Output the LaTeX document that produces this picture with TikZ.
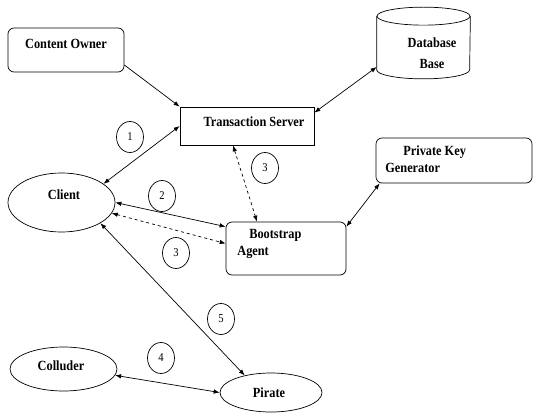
\documentclass[tikz,border=0pt]{standalone}
\usepackage{fontspec}
\setmainfont{Liberation Serif}[FakeStretch=0.88]
\usetikzlibrary{arrows.meta,positioning,shapes.geometric}

\begin{document}
\begin{tikzpicture}[x=1pt, y=-1pt, >={Latex[length=6pt,width=4.5pt]}, line width=0.7pt,
  rbox/.style={draw, rounded corners=6pt, minimum width=#1},
  sbox/.style={draw, minimum width=#1},
  oval/.style={draw, ellipse, inner sep=0pt},
  txt/.style={font=\fontsize{14}{17}\selectfont\bfseries, inner sep=0pt},
  num/.style={draw, ellipse, inner sep=0pt, minimum width=27pt, minimum height=31pt, font=\fontsize{12}{14}\selectfont},
  link/.style={<->}]
\useasboundingbox (0,0) rectangle (534,414);
% boxes
\node[rbox=116pt, minimum height=44pt] (owner) at (66,50) {};
\node[minimum width=93pt, minimum height=71pt, inner sep=0pt] (db) at (423.5,43) {};
\draw ([yshift=-9pt]db.north west) -- ([yshift=9pt]db.south west)
  arc[start angle=180, end angle=360, x radius=46.5pt, y radius=9pt] -- ([yshift=-9pt]db.north east);
\draw ([yshift=-9pt]db.north) ellipse [x radius=46.5pt, y radius=9pt];
\node[sbox=134pt, minimum height=38pt] (ts) at (247,126) {};
\node[rbox=156pt, minimum height=45pt] (pkg) at (454,160.5) {};
\node[rbox=120pt, minimum height=53pt] (boot) at (286,248.5) {};
\node[oval, minimum width=107pt, minimum height=59pt] (client) at (61.5,202.5) {};
\node[oval, minimum width=107pt, minimum height=44pt] (colluder) at (63.5,369) {};
\node[oval, minimum width=102pt, minimum height=39pt] (pirate) at (271,392.5) {};
% texts
\node[txt] (ownertxt) at (66,44) {Content Owner};
\node[txt, align=center, font=\fontsize{14}{21}\selectfont\bfseries] (dbtxt) at (432,53) {Database\\Base};
\node[txt] (tstxt) at (254,122) {Transaction Server};
\node[txt, align=left, anchor=north west] (pkgtxt) at (385,145) {\hspace*{18pt}Private Key\\Generator};
\node[txt, align=left, anchor=north west] (boottxt) at (237,229) {\hspace*{12pt}Bootstrap\\Agent};
\node[txt] (clienttxt) at (64,195) {Client};
\node[txt] (colludertxt) at (61,366) {Colluder};
\node[txt] (piratetxt) at (269,393) {Pirate};
% step numbers
\node[num] (n1) at (130,137) {1};
\node[num] (n3a) at (265,168) {3};
\node[num] (n2) at (162,196) {2};
\node[num] (n3b) at (176,253) {3};
\node[num] (n5) at (221,319) {5};
\node[num] (n4) at (161,358) {4};
% links
\draw[->] ([yshift=-15pt]owner.east) -- (ts.north west);
\draw[link] ([yshift=-24pt]db.west) -- ([yshift=-6pt]ts.north east);
\draw[link] (client.24) -- (ts.west);
\draw[link, dashed] ([xshift=-14pt]ts.south) -- ([xshift=-29pt]boot.north);
\draw[link] (client.east) -- ([yshift=-5pt]boot.north west);
\draw[link, dashed] (client.-12) -- ([yshift=5pt]boot.west);
\draw[link] ([xshift=4pt]pkg.south west) -- ([yshift=-5pt]boot.north east);
\draw[link] (client.-28) -- (pirate.147);
\draw[link] (colluder.-7) -- (pirate.west);
\end{tikzpicture}
\end{document}
